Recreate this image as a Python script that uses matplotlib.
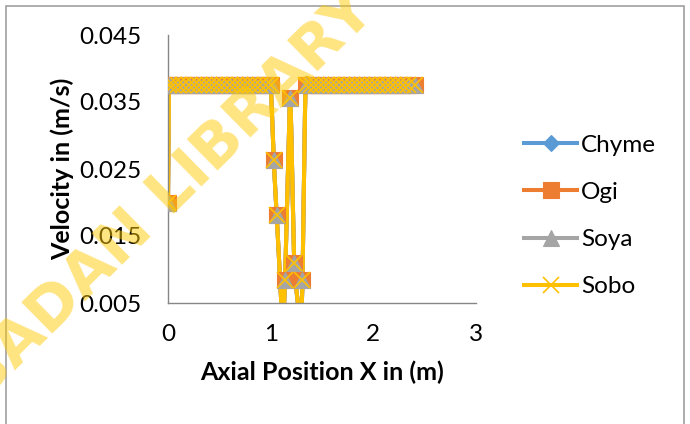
import numpy as np
import matplotlib.pyplot as plt
from matplotlib.patches import Rectangle
from matplotlib.lines import Line2D

# Axial position (m) and velocity (m/s); all four fluids share the same profile
x_pos = [0.0, 0.01, 0.05, 0.1, 0.15, 0.2, 0.25, 0.3, 0.35, 0.4, 0.45, 0.5,
         0.55, 0.6, 0.65, 0.7, 0.75, 0.8, 0.85, 0.9, 0.95, 1.0,
         1.03, 1.06, 1.115, 1.14, 1.19, 1.23, 1.29, 1.31,
         1.34, 1.39, 1.44, 1.49, 1.54, 1.59, 1.64, 1.69, 1.74, 1.79, 1.84,
         1.89, 1.94, 1.99, 2.04, 2.09, 2.14, 2.19, 2.24, 2.29, 2.34, 2.41]
v_chyme = ([0.0200] + [0.0375] * 21 +
           [0.0263, 0.0181, 0.0020, 0.0084, 0.0356, 0.0110, 0.0020, 0.0084] +
           [0.0375] * 22)
v_ogi = list(v_chyme)
v_soya = list(v_chyme)
v_sobo = list(v_chyme)

series_names = ['Chyme', 'Ogi', 'Soya', 'Sobo']
series_vals = [v_chyme, v_ogi, v_soya, v_sobo]
colors = ['#5B9BD5', '#ED7D31', '#A5A5A5', '#FFC000']
markers = ['D', 's', '^', 'x']
msizes = [8.2, 11.5, 11.5, 11.5]

x_ticks = [0, 1, 2, 3]
y_ticks = [0.005, 0.015, 0.025, 0.035, 0.045]

plt.rcParams['font.family'] = ['Lato', 'DejaVu Sans']

W, H = 690, 424
fig = plt.figure(figsize=(W / 100, H / 100), dpi=100)
ax = fig.add_axes([168 / W, (H - 303) / H, 308 / W, 268 / H])
ax.set_xlim(0, 3)
ax.set_ylim(0.005, 0.045)


def smooth(xs, ys, sx, sy, n=20, k=0.5):
    # cardinal spline through the points, computed in pixel-like units
    px = np.asarray(xs) * sx
    py = np.asarray(ys) * sy
    P = np.column_stack([px, py])
    P = np.vstack([P[0], P, P[-1]])
    out = []
    t = np.linspace(0, 1, n)[:, None]
    for i in range(1, len(P) - 2):
        p0, p1, p2, p3 = P[i - 1], P[i], P[i + 1], P[i + 2]
        m1 = (p2 - p0) * k / 2
        m2 = (p3 - p1) * k / 2
        h00 = 2 * t**3 - 3 * t**2 + 1
        h10 = t**3 - 2 * t**2 + t
        h01 = -2 * t**3 + 3 * t**2
        h11 = t**3 - t**2
        out.append(h00 * p1 + h10 * m1 + h01 * p2 + h11 * m2)
    c = np.vstack(out)
    return c[:, 0] / sx, c[:, 1] / sy


sx = 308 / 3.0
sy = 268 / 0.04
for name, vals, col, mk, ms in zip(series_names, series_vals, colors, markers, msizes):
    cx, cy = smooth(x_pos, vals, sx, sy)
    ax.plot(cx, cy, color=col, lw=2.9, solid_capstyle='round', zorder=2)
    if mk == 'x':
        ax.plot(x_pos, vals, ls='none', marker=mk, ms=ms, mew=1.2, color=col, zorder=3)
    else:
        ax.plot(x_pos, vals, ls='none', marker=mk, ms=ms, mfc=col, mec=col,
                mew=0.8, zorder=3)

for s in ['top', 'right']:
    ax.spines[s].set_visible(False)
for s in ['left', 'bottom']:
    ax.spines[s].set_color('#868686')
    ax.spines[s].set_linewidth(1.0)

ax.set_xticks(x_ticks)
ax.set_xticklabels([str(v) for v in x_ticks])
ax.set_yticks(y_ticks)
ax.set_yticklabels(['%.3f' % v for v in y_ticks])
ax.tick_params(axis='both', length=0, labelsize=17.5, colors='black')
ax.tick_params(axis='y', pad=19)
ax.tick_params(axis='x', pad=15)

ax.set_xlabel('Axial Position X in (m)', fontsize=18, fontweight='bold', labelpad=11)
ax.set_ylabel('Velocity in (m/s)', fontsize=18, fontweight='bold', labelpad=4)

handles = [Line2D([], [], color=c, lw=2.9, marker=m, ms=ms,
                  mfc=c, mec=c, mew=1.2 if m == 'x' else 0.8)
           for c, m, ms in zip(colors, markers, msizes)]
fig.legend(handles, series_names, loc='center left', bbox_to_anchor=(502 / W, 1 - 216 / H),
           frameon=False, fontsize=17.5, handlelength=2.2, labelspacing=1.08,
           handletextpad=0.15)

# chart area border
fig.patches.append(Rectangle((6 / W, -0.1), 678 / W, 1.1 - 6 / H, transform=fig.transFigure,
                             fill=False, edgecolor='#A0A0A0', lw=1.2))

# library watermark
fig.text(366 / W, 1 - 2 / H, 'IBADAN LIBRARY', fontsize=44, fontweight='bold',
         family='DejaVu Sans', color='#FFC905', alpha=0.5, rotation=44.6,
         rotation_mode='anchor', ha='right', va='center', zorder=10)

fig.savefig('out.png', dpi=100)
